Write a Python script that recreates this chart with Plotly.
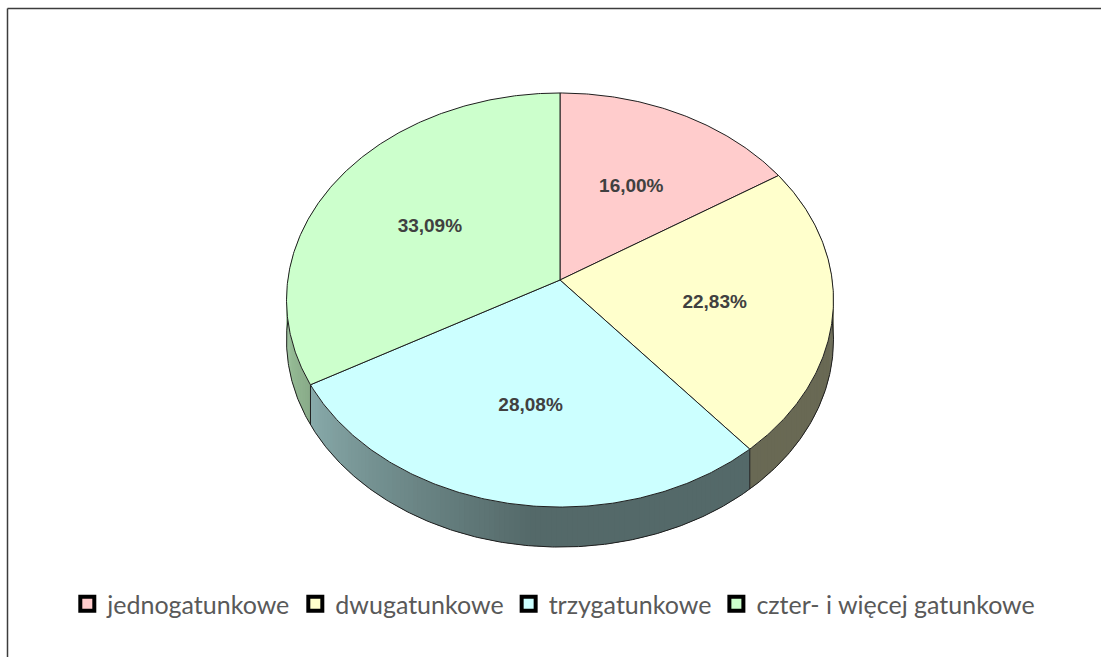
import numpy as np
import plotly.graph_objects as go

# Udział drzewostanów wg liczby gatunków
categories = ["jednogatunkowe", "dwugatunkowe", "trzygatunkowe", "czter- i więcej gatunkowe"]
shares = [16.00, 22.83, 28.08, 33.09]
colors = [(255, 204, 204), (255, 255, 204), (204, 255, 255), (204, 255, 204)]

W, H = 1101, 657

# Tilted-disc projection (pixel space): centre, half-axes, perspective, thickness
CX, CY = 560.0, 280.0
AX, AY = 272.2, 205.1
PERSP = 0.0967
DEPTH = 40.0
EDGE = "#1e1e1e"
LABEL_R = 0.57
LABEL_DY = 5.0


def proj(phi_deg, r=1.0):
    """Point on the disc at angle phi (clockwise from 12 o'clock), radius fraction r."""
    p = np.radians(phi_deg)
    u, v = r * np.sin(p), r * np.cos(p)
    s = 1.0 / (1.0 + PERSP * v)
    return CX + AX * u * s, CY - AY * v * s


def rgb(c, f=1.0):
    return "rgb(%d,%d,%d)" % tuple(int(round(min(255, x * f))) for x in c)


def side_shade(phi):
    # darker towards the front-right, lighter towards the left
    if phi <= 185:
        return 0.41
    return min(0.78, 0.41 + 0.37 * (phi - 185) / 80.0)


total = sum(shares)
bounds = [0.0]
for v in shares:
    bounds.append(bounds[-1] + 360.0 * v / total)


def slice_at(phi):
    for i in range(len(shares)):
        if bounds[i] <= phi < bounds[i + 1]:
            return i
    return len(shares) - 1


fig = go.Figure()

# side wall, drawn as thin shaded strips (painter's order, covered later by the top)
step = 1.0
phi = 55.0
while phi < 305.0:
    i = slice_at(phi + step / 2)
    a0 = max(phi - 0.35, bounds[i])
    a1 = min(phi + step + 0.35, bounds[i + 1])
    x0, y0 = proj(a0)
    x1, y1 = proj(a1)
    fig.add_trace(go.Scatter(
        x=[x0, x1, x1, x0, x0], y=[y0, y1, y1 + DEPTH, y0 + DEPTH, y0],
        mode="lines", fill="toself", fillcolor=rgb(colors[i], side_shade(phi + step / 2)),
        line=dict(width=0), hoverinfo="skip", showlegend=False))
    phi += step

# lower rim outline
ang = np.arange(55.0, 305.01, 0.5)
bx, by = zip(*[proj(a) for a in ang])
fig.add_trace(go.Scatter(x=list(bx), y=[y + DEPTH for y in by], mode="lines",
                         line=dict(color=EDGE, width=1), hoverinfo="skip", showlegend=False))

# vertical edges where visible slices meet on the wall
for b in bounds[1:-1]:
    if 95 < b < 265:
        x, y = proj(b)
        fig.add_trace(go.Scatter(x=[x, x], y=[y, y + DEPTH], mode="lines",
                                 line=dict(color=EDGE, width=1), hoverinfo="skip", showlegend=False))

# top faces
for i in range(len(shares)):
    a = np.linspace(bounds[i], bounds[i + 1], max(8, int((bounds[i + 1] - bounds[i]) * 2)))
    pts = [proj(t) for t in a]
    xs = [CX] + [p[0] for p in pts] + [CX]
    ys = [CY] + [p[1] for p in pts] + [CY]
    fig.add_trace(go.Scatter(x=xs, y=ys, mode="lines", fill="toself",
                             fillcolor=rgb(colors[i]), line=dict(color=EDGE, width=1),
                             hoverinfo="skip", showlegend=False))

# data labels
lx, ly, lt = [], [], []
for i, v in enumerate(shares):
    mid = (bounds[i] + bounds[i + 1]) / 2
    x, y = proj(mid, LABEL_R)
    lx.append(x)
    ly.append(y + LABEL_DY)
    lt.append(("%.2f%%" % v).replace(".", ","))
fig.add_trace(go.Scatter(x=lx, y=ly, mode="text", text=lt,
                         textfont=dict(family="Liberation Sans Narrow, Arial Narrow, Liberation Sans, sans-serif",
                                       size=19, color="#404040", weight="bold"),
                         hoverinfo="skip", showlegend=False))

# legend entries
for name, c in zip(categories, colors):
    fig.add_trace(go.Scatter(x=[None], y=[None], mode="markers", name=name,
                             marker=dict(symbol="square", size=14, color=rgb(c),
                                         line=dict(color="#000000", width=4))))

fig.update_layout(
    width=W, height=H,
    margin=dict(l=0, r=0, t=0, b=0),
    paper_bgcolor="white", plot_bgcolor="white",
    xaxis=dict(range=[0, W], visible=False, fixedrange=True),
    yaxis=dict(range=[H, 0], visible=False, fixedrange=True),
    showlegend=True,
    legend=dict(orientation="h", x=0.503, xanchor="center", y=1 - 604 / H, yanchor="middle",
                font=dict(family="Lato, Carlito, Open Sans, sans-serif", size=25, color="#595959"),
                itemclick=False, itemdoubleclick=False, bgcolor="rgba(0,0,0,0)"),
    # chart-area frame: only its top and left edges fall inside the page
    shapes=[
        dict(type="line", xref="paper", yref="paper", x0=7.5 / W, x1=1.0,
             y0=1 - 8.5 / H, y1=1 - 8.5 / H, line=dict(color="#3c3c3c", width=1.5)),
        dict(type="line", xref="paper", yref="paper", x0=7.5 / W, x1=7.5 / W,
             y0=1 - 8.5 / H, y1=0.0, line=dict(color="#3c3c3c", width=1.5)),
    ],
)

# the figure fills the page exactly; keep the page itself from scrolling
fig.write_html(
    "out.html",
    config={"displayModeBar": False, "staticPlot": True},
    post_script="document.documentElement.style.overflow='hidden';document.body.style.overflow='hidden';",
)
